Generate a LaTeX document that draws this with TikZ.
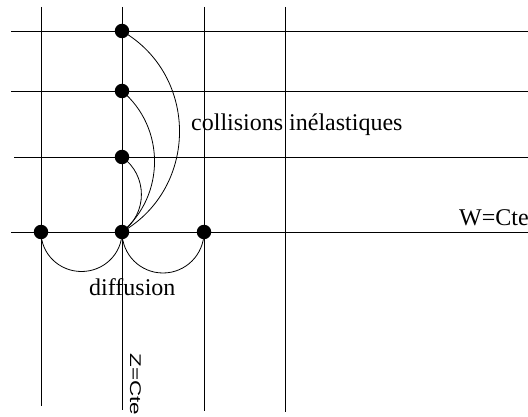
\documentclass[tikz,border=0pt]{standalone}
\usepackage{fontspec}
\setmainfont{Liberation Serif}
\newfontfamily\labsans{Liberation Sans}
\begin{document}
\begin{tikzpicture}[x=1pt,y=1pt,
  grid/.style={line width=0.8pt,black},
  dot/.style={circle,fill=black,inner sep=0pt,minimum size=14.5pt},
  link/.style={line width=0.8pt},
  lab/.style={inner sep=0pt,font=\fontsize{24}{28}\selectfont}]
\useasboundingbox (0,0) rectangle (528,416);
% grid lines
\coordinate (v1t) at (41,409);  \coordinate (v1b) at (41,10);
\coordinate (v2t) at (122,409); \coordinate (v2b) at (122,6);
\coordinate (v3t) at (204,409); \coordinate (v3b) at (204,5);
\coordinate (v4t) at (285,409); \coordinate (v4b) at (285,4);
\coordinate (h1l) at (11,385);  \coordinate (h1r) at (528,385);
\coordinate (h2l) at (11,325);  \coordinate (h2r) at (528,325);
\coordinate (h3l) at (14,259);  \coordinate (h3r) at (528,259);
\coordinate (h4l) at (11,184);  \coordinate (h4r) at (528,184);
\draw[grid] (v1t) -- (v1b);
\draw[grid] (v2t) -- (v2b);
\draw[grid] (v3t) -- (v3b);
\draw[grid] (v4t) -- (v4b);
\draw[grid] (h1l) -- (h1r);
\draw[grid] (h2l) -- (h2r);
\draw[grid] (h3l) -- (h3r);
\draw[grid] (h4l) -- (h4r);
% dots
\node[dot] (A) at (122,385) {};
\node[dot] (B) at (122,325) {};
\node[dot] (C) at (122,259) {};
\node[dot] (L) at (41,184) {};
\node[dot] (M) at (122,184) {};
\node[dot] (R) at (204,184) {};
% collision arcs
\draw[link] (A.center) to[out=-30,in=30,looseness=1.13] (M.center);
\draw[link] (B.center) to[out=-40,in=40,looseness=1.03] (M.center);
\draw[link] (C.center) to[out=-35,in=35,looseness=1.08] (M.center);
% diffusion arcs
\draw[link] (L.center) arc[start angle=180,end angle=360,x radius=40.5,y radius=39.5];
\draw[link] (M.center) arc[start angle=180,end angle=360,x radius=41,y radius=41];
% labels
\node[lab,anchor=base west] (coll) at (191,286) {collisions inélastiques};
\node[lab,anchor=base west] (wcte) at (459,191) {W=Cte};
\node[lab,anchor=base west] (diff) at (89,121) {diffusion};
\node[inner sep=0pt,font=\labsans\fontsize{15.5}{18}\selectfont,rotate=-90,xscale=1.45,anchor=base west] (zcte) at (130,63) {Z=Cte};
\end{tikzpicture}
\end{document}
